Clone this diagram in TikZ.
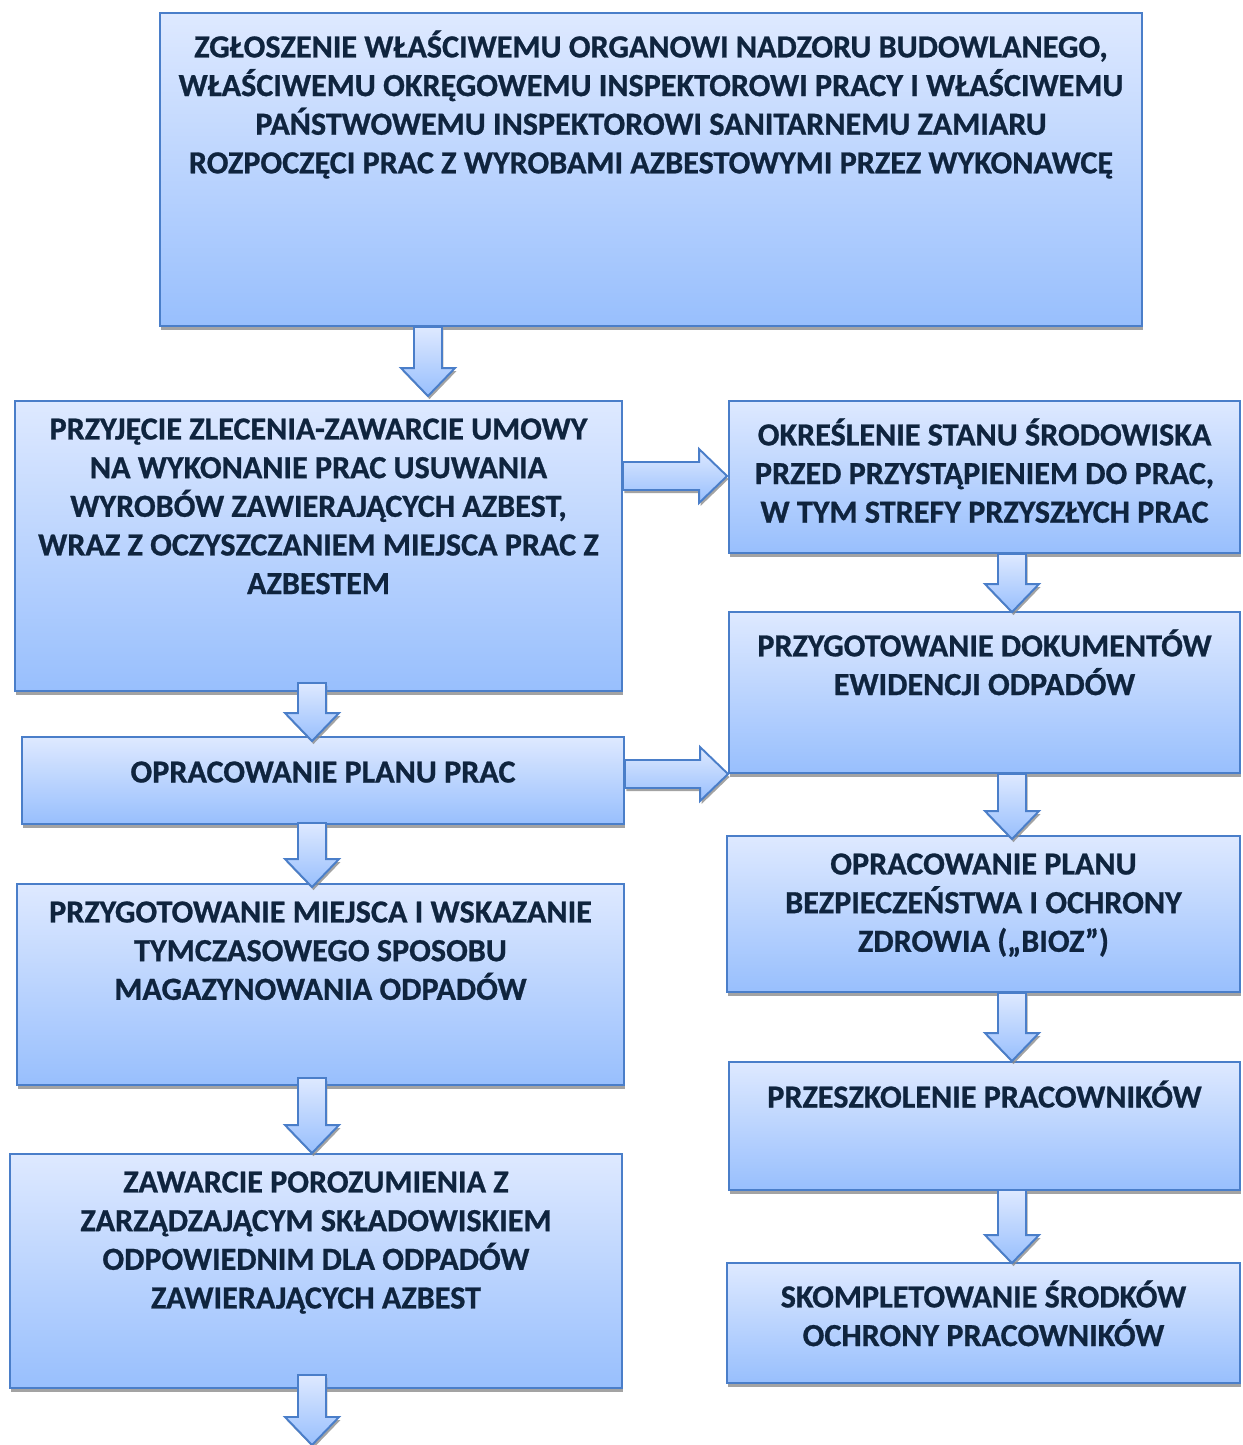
\documentclass[tikz,border=0pt]{standalone}
\usepackage{fontspec}
\setmainfont{Carlito}[BoldFeatures={FakeBold=0.8}]
\usepackage{tikz}
\usetikzlibrary{positioning}
\usetikzlibrary{fit}
\usetikzlibrary{calc}
\usetikzlibrary{shadows}
\usepackage{xcolor}

\definecolor{boxline}{HTML}{4A7EC9}
\definecolor{boxtop}{HTML}{DEE9FF}
\definecolor{boxbottom}{HTML}{98BFFD}
\definecolor{boxtext}{HTML}{0F243E}

\newcommand\shaftw{0.28cm}
\newcommand\headw{0.54cm}
\newcommand\headl{0.56cm}

% down arrow: x position, start point, tip point
\newcommand\downblock[3]{%
  \path[blockarrow] let \p1=(#2), \p2=(#3), \p3=(#1,0) in
    (\x3-\shaftw,\y1) -- (\x3+\shaftw,\y1) -- (\x3+\shaftw,\y2+\headl)
    -- (\x3+\headw,\y2+\headl) -- (\x3,\y2) -- (\x3-\headw,\y2+\headl)
    -- (\x3-\shaftw,\y2+\headl) -- cycle;}
% right arrow: y position, start point, tip point
\newcommand\rightblock[3]{%
  \path[blockarrow] let \p1=(#2), \p2=(#3), \p3=(0,#1) in
    (\x1,\y3+\shaftw) -- (\x2-\headl,\y3+\shaftw) -- (\x2-\headl,\y3+\headw)
    -- (\x2,\y3) -- (\x2-\headl,\y3-\headw) -- (\x2-\headl,\y3-\shaftw)
    -- (\x1,\y3-\shaftw) -- cycle;}

\begin{document}
\begin{tikzpicture}[
        x=0.02cm, y=-0.02cm,
        box/.style = {
        draw=boxline, line width=1.1pt, inner sep=0pt,
        top color=boxtop, bottom color=boxbottom,
        drop shadow={shadow xshift=0.02cm, shadow yshift=-0.08cm, fill=black!45, opacity=0.8}
        },
        boxlabel/.style = {
        inner sep=0pt, align=center, text=boxtext,
        font=\fontsize{18.3pt}{22pt}\selectfont\bfseries,
        execute at begin node={\rule{0pt}{16pt}}
        },
        blockarrow/.style = {
        draw=boxline, line width=1.1pt, line join=miter,
        top color=boxtop, bottom color=boxbottom,
        drop shadow={shadow xshift=0.03cm, shadow yshift=-0.06cm, fill=black!45, opacity=0.8}
        }
        ]
    \useasboundingbox (0,0) rectangle (1242,1445);

    % boxes
    \node[box, fit={(160,13) (1142,326)}] (notice) {};
    \node[box, fit={(15,401) (622,691)}] (contract) {};
    \node[box, fit={(729,401) (1240,553)}] (state) {};
    \node[box, fit={(729,612) (1240,773)}] (records) {};
    \node[box, fit={(22,737) (624,824)}] (plan) {};
    \node[box, fit={(17,884) (624,1085)}] (storage) {};
    \node[box, fit={(727,836) (1240,992)}] (bioz) {};
    \node[box, fit={(729,1062) (1240,1190)}] (training) {};
    \node[box, fit={(10,1154) (622,1388)}] (landfill) {};
    \node[box, fit={(727,1263) (1240,1383)}] (equipment) {};

    % texts
    \node[boxlabel, below=0.36cm of notice.north] (noticetext)
        {ZGŁOSZENIE WŁAŚCIWEMU ORGANOWI NADZORU BUDOWLANEGO,\\
         WŁAŚCIWEMU OKRĘGOWEMU INSPEKTOROWI PRACY I WŁAŚCIWEMU\\
         PAŃSTWOWEMU INSPEKTOROWI SANITARNEMU ZAMIARU\\
         ROZPOCZĘCI PRAC Z WYROBAMI AZBESTOWYMI PRZEZ WYKONAWCĘ};
    \node[boxlabel, below=0.36cm of contract.north] (contracttext)
        {PRZYJĘCIE ZLECENIA-ZAWARCIE UMOWY\\
         NA WYKONANIE PRAC USUWANIA\\
         WYROBÓW ZAWIERAJĄCYCH AZBEST,\\
         WRAZ Z OCZYSZCZANIEM MIEJSCA PRAC Z\\
         AZBESTEM};
    \node[boxlabel, below=0.36cm of state.north] (statetext)
        {OKREŚLENIE STANU ŚRODOWISKA\\
         PRZED PRZYSTĄPIENIEM DO PRAC,\\
         W TYM STREFY PRZYSZŁYCH PRAC};
    \node[boxlabel, below=0.36cm of records.north] (recordstext)
        {PRZYGOTOWANIE DOKUMENTÓW\\
         EWIDENCJI ODPADÓW};
    \node[boxlabel, below=0.36cm of plan.north] (plantext)
        {OPRACOWANIE PLANU PRAC};
    \node[boxlabel, below=0.36cm of storage.north] (storagetext)
        {PRZYGOTOWANIE MIEJSCA I WSKAZANIE\\
         TYMCZASOWEGO SPOSOBU\\
         MAGAZYNOWANIA ODPADÓW};
    \node[boxlabel, below=0.36cm of bioz.north] (bioztext)
        {OPRACOWANIE PLANU\\
         BEZPIECZEŃSTWA I OCHRONY\\
         ZDROWIA („BIOZ”)};
    \node[boxlabel, below=0.36cm of training.north] (trainingtext)
        {PRZESZKOLENIE PRACOWNIKÓW};
    \node[boxlabel, below=0.36cm of landfill.north] (landfilltext)
        {ZAWARCIE POROZUMIENIA Z\\
         ZARZĄDZAJĄCYM SKŁADOWISKIEM\\
         ODPOWIEDNIM DLA ODPADÓW\\
         ZAWIERAJĄCYCH AZBEST};
    \node[boxlabel, below=0.36cm of equipment.north] (equipmenttext)
        {SKOMPLETOWANIE ŚRODKÓW\\
         OCHRONY PRACOWNIKÓW};

    % arrows
    \coordinate (next) at (312,1445);
    \downblock{428}{notice.south}{[yshift=0.08cm]contract.north}
    \downblock{312}{[yshift=0.18cm]contract.south}{[yshift=-0.1cm]plan.north}
    \downblock{312}{[yshift=0.04cm]plan.south}{[yshift=-0.08cm]storage.north}
    \downblock{312}{[yshift=0.16cm]storage.south}{landfill.north}
    \downblock{312}{[yshift=0.28cm]landfill.south}{next}
    \downblock{1012}{state.south}{[yshift=-0.02cm]records.north}
    \downblock{1012}{records.south}{[yshift=-0.08cm]bioz.north}
    \downblock{1012}{bioz.south}{training.north}
    \downblock{1012}{[yshift=0.02cm]training.south}{[yshift=-0.02cm]equipment.north}
    \rightblock{476}{contract.east}{[xshift=-0.02cm]state.west}
    \rightblock{774}{plan.east}{records.west}
\end{tikzpicture}
\end{document}
